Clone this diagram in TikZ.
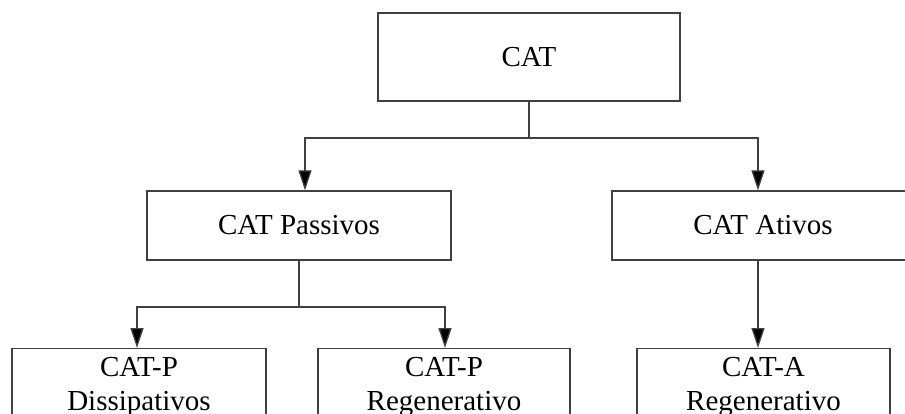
\documentclass[tikz,border=0pt]{standalone}
\usepackage{fontspec}
\setmainfont{Liberation Serif}
\usetikzlibrary{arrows.meta}
\begin{document}
\begin{tikzpicture}[x=1pt,y=-1pt,
  box/.style={draw=black!75,line width=1.3pt,fill=white,inner sep=0pt,
    font=\fontsize{29}{34}\selectfont},
  lowbox/.style={box,anchor=north,inner xsep=0pt,inner ysep=8.5pt,align=center},
  wire/.style={draw=black!75,line width=1.3pt},
  arr/.style={wire,-{Triangle[length=20pt,width=13pt,fill=black]}}]
\useasboundingbox (0,0) rectangle (905,414);
\clip (0,0) rectangle (905,414);
\node[box,minimum width=302pt,minimum height=88pt] (cat) at (529,57) {CAT};
\node[box,minimum width=304pt,minimum height=69pt] (passivos) at (299,225.5) {CAT Passivos};
\node[box,minimum width=302pt,minimum height=69pt] (ativos) at (763,225.5) {CAT Ativos};
\node[lowbox,text width=254pt] (dis) at (139,348) {CAT-P\\Dissipativos\\\rule{0pt}{30pt}};
\node[lowbox,text width=252pt] (regp) at (444,348) {CAT-P\\Regenerativo\\\rule{0pt}{30pt}};
\node[lowbox,text width=253pt] (rega) at (763.5,348) {CAT-A\\Regenerativo\\\rule{0pt}{30pt}};
\coordinate (busA) at (305,138);
\coordinate (busB) at (758,138);
\coordinate (busC) at (137,307);
\coordinate (busD) at (445,307);
\draw[wire] (cat.south) -- (cat.south |- busA);
\draw[arr] (cat.south |- busA) -- (busA) -- (busA |- passivos.north);
\draw[arr] (cat.south |- busA) -- (busB) -- (busB |- ativos.north);
\draw[wire] (passivos.south) -- (passivos.south |- busC);
\draw[arr] (passivos.south |- busC) -- (busC) -- (busC |- dis.north);
\draw[arr] (passivos.south |- busC) -- (busD) -- (busD |- regp.north);
\draw[arr] (busB |- ativos.south) -- (busB |- rega.north);
\end{tikzpicture}
\end{document}
